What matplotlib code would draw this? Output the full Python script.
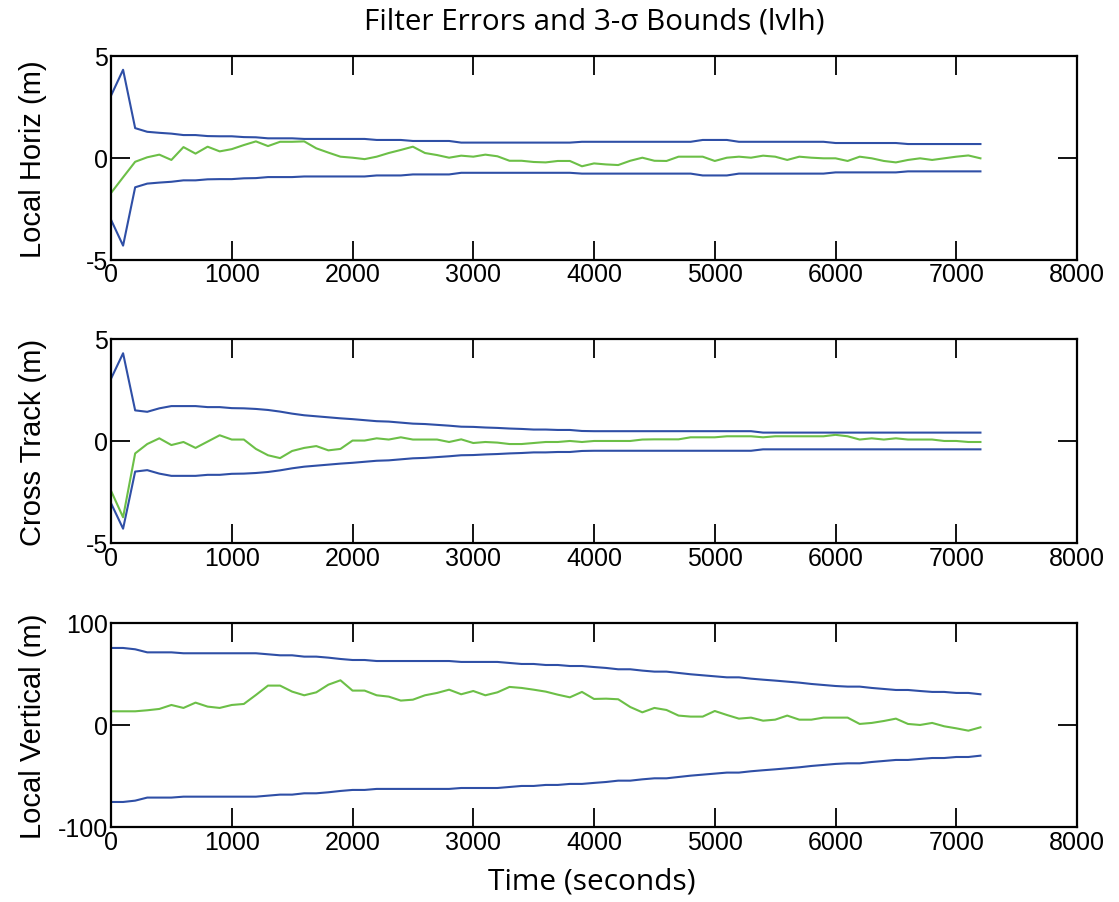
import numpy as np
import matplotlib
matplotlib.use("Agg")
import matplotlib.pyplot as plt

plt.rcParams["axes.unicode_minus"] = False

# time grid (s), one sample every 100 s
t = np.arange(0, 7300, 100)

# 3-sigma bounds (upper; lower is the mirror) and filter errors
horiz_sig = [3.04, 4.31, 1.45, 1.27, 1.22, 1.18, 1.11, 1.11, 1.06, 1.05,
             1.05, 1.01, 1.00, 0.95, 0.95, 0.95, 0.92, 0.92, 0.92, 0.92,
             0.92, 0.92, 0.87, 0.87, 0.87, 0.82, 0.82, 0.82, 0.82, 0.74,
             0.74, 0.74, 0.74, 0.74, 0.74, 0.74, 0.74, 0.74, 0.74, 0.78,
             0.78, 0.78, 0.78, 0.78, 0.78, 0.78, 0.78, 0.78, 0.78, 0.87,
             0.87, 0.87, 0.78, 0.78, 0.78, 0.78, 0.78, 0.78, 0.78, 0.78,
             0.72, 0.72, 0.72, 0.72, 0.72, 0.72, 0.67, 0.67, 0.67, 0.67,
             0.67, 0.67, 0.67]
horiz_err = [-1.73, -0.96, -0.20, 0.02, 0.15, -0.11, 0.52, 0.20, 0.54, 0.31,
             0.42, 0.62, 0.80, 0.57, 0.78, 0.78, 0.80, 0.46, 0.25, 0.05,
             0.00, -0.07, 0.05, 0.23, 0.38, 0.54, 0.23, 0.13, 0.00, 0.10,
             0.05, 0.15, 0.07, -0.15, -0.15, -0.21, -0.23, -0.16, -0.16, -0.42,
             -0.28, -0.33, -0.36, -0.15, 0.00, -0.15, -0.16, 0.05, 0.05, 0.05,
             -0.16, 0.00, 0.05, 0.00, 0.10, 0.05, -0.11, 0.05, 0.00, -0.03,
             -0.03, -0.16, 0.05, -0.03, -0.16, -0.23, -0.11, -0.03, -0.11, -0.03,
             0.05, 0.11, -0.03]

cross_sig = [3.05, 4.30, 1.50, 1.43, 1.60, 1.71, 1.71, 1.71, 1.66, 1.66,
             1.61, 1.60, 1.57, 1.52, 1.44, 1.34, 1.26, 1.21, 1.16, 1.11,
             1.07, 1.02, 0.97, 0.95, 0.90, 0.85, 0.83, 0.79, 0.75, 0.70,
             0.69, 0.66, 0.64, 0.61, 0.59, 0.56, 0.56, 0.54, 0.54, 0.49,
             0.48, 0.48, 0.48, 0.48, 0.48, 0.48, 0.48, 0.48, 0.48, 0.48,
             0.48, 0.48, 0.48, 0.48, 0.41, 0.41, 0.41, 0.41, 0.41, 0.41,
             0.41, 0.41, 0.41, 0.41, 0.41, 0.41, 0.41, 0.41, 0.41, 0.41,
             0.41, 0.41, 0.41]
cross_err = [-2.44, -3.74, -0.61, -0.15, 0.13, -0.20, -0.05, -0.34, -0.03, 0.28,
             0.07, 0.07, -0.39, -0.70, -0.84, -0.49, -0.34, -0.25, -0.46, -0.39,
             0.02, 0.02, 0.13, 0.07, 0.18, 0.07, 0.07, 0.07, -0.05, 0.08,
             -0.10, -0.05, -0.08, -0.15, -0.15, -0.10, -0.05, -0.05, 0.00, -0.05,
             0.00, 0.00, 0.00, 0.00, 0.07, 0.08, 0.08, 0.08, 0.18, 0.18,
             0.18, 0.23, 0.23, 0.23, 0.18, 0.23, 0.23, 0.23, 0.23, 0.23,
             0.30, 0.23, 0.07, 0.13, 0.07, 0.13, 0.07, 0.07, 0.07, 0.00,
             0.00, -0.05, -0.05]

vert_sig = [75.5, 75.5, 74.2, 71.2, 71.2, 71.2, 70.3, 70.3, 70.3, 70.3,
            70.3, 70.3, 70.3, 69.3, 68.3, 68.3, 67.0, 67.0, 66.0, 64.7,
            63.7, 63.7, 62.7, 62.7, 62.7, 62.7, 62.7, 62.7, 62.7, 61.8,
            61.8, 61.8, 61.8, 60.8, 59.8, 59.8, 58.8, 58.8, 57.8, 57.8,
            56.8, 55.9, 54.6, 54.6, 53.3, 52.3, 52.3, 51.0, 49.7, 48.7,
            47.7, 46.7, 46.7, 45.4, 44.4, 43.5, 42.5, 41.5, 40.2, 39.2,
            38.2, 37.6, 37.6, 36.3, 35.3, 34.3, 34.3, 33.3, 32.4, 32.4,
            31.4, 31.4, 30.1]
vert_err = [13.4, 13.4, 13.4, 14.4, 15.7, 19.6, 16.7, 21.9, 18.0, 16.7,
            19.6, 20.6, 29.4, 38.6, 38.6, 32.7, 29.1, 32.0, 39.5, 43.8,
            33.7, 33.7, 29.1, 27.8, 23.9, 24.8, 29.1, 31.4, 34.6, 30.1,
            33.3, 29.1, 32.0, 37.3, 36.3, 34.6, 32.7, 29.7, 27.1, 32.4,
            25.5, 25.8, 25.2, 17.6, 12.4, 16.7, 14.7, 9.2, 8.2, 8.2,
            13.7, 9.8, 6.2, 7.2, 4.2, 5.2, 9.2, 5.2, 5.2, 7.2,
            7.2, 7.2, 1.0, 2.0, 3.9, 6.2, 1.0, 0.0, 2.0, -1.3,
            -3.3, -5.6, -2.3]

ylabels = ["Local Horiz (m)", "Cross Track (m)", "Local Vertical (m)"]
ylims = [5, 5, 100]
xticks = [0, 1000, 2000, 3000, 4000, 5000, 6000, 7000, 8000]

blue = "#2f4fa6"
green = "#6cbf47"

fig = plt.figure(figsize=(11.19, 9.03), dpi=100)
bottoms = [0.7113, 0.3976, 0.0831]
axes = [fig.add_axes([0.0992, b, 0.8633, 0.2259]) for b in bottoms]

series = [(horiz_sig, horiz_err), (cross_sig, cross_err), (vert_sig, vert_err)]
for ax, (sig, err), lab, lim in zip(axes, series, ylabels, ylims):
    sig = np.array(sig)
    ax.plot(t, sig, color=blue, lw=1.5)
    ax.plot(t, -sig, color=blue, lw=1.5)
    ax.plot(t, err, color=green, lw=1.5)
    ax.set_xlim(0, 8000)
    ax.set_ylim(-lim, lim)
    ax.set_xticks(xticks)
    ax.set_yticks([-lim, 0, lim])
    ax.tick_params(direction="in", length=13.5, width=1.3, top=True, right=True,
                   labelsize=18, pad=2)
    for lbl in ax.get_xticklabels() + ax.get_yticklabels():
        lbl.set_family("Liberation Sans")
    for s in ax.spines.values():
        s.set_linewidth(1.6)
    ax.set_ylabel(lab, fontsize=21, family="Liberation Sans")
    ax.yaxis.set_label_coords(-0.066, 0.5)

fig.text(0.5308, 1 - 22 / 903, "Filter Errors and 3-\u03c3 Bounds (lvlh)",
         ha="center", va="center", fontsize=21.3, family=["Open Sans", "DejaVu Sans"])
fig.text(0.529, 1 - 882 / 903, "Time (seconds)",
         ha="center", va="center", fontsize=21.5, family=["Open Sans", "DejaVu Sans"])

fig.savefig("out.png", dpi=100)
